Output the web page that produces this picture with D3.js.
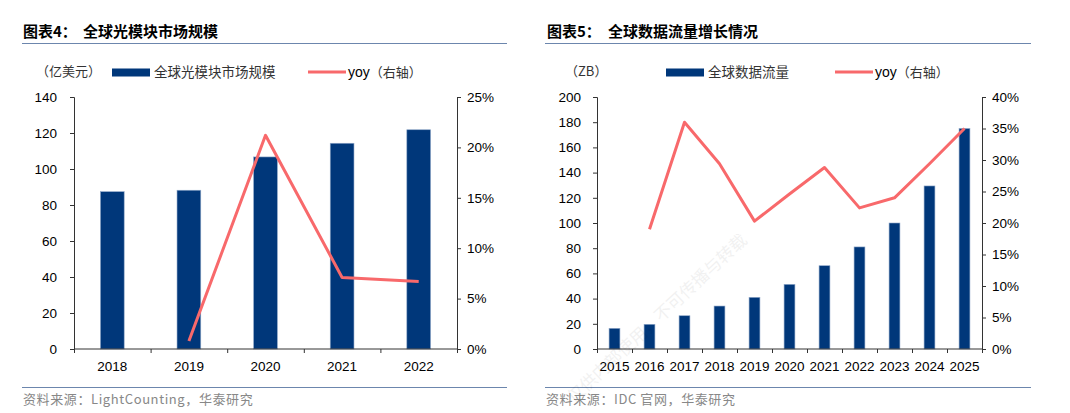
<!DOCTYPE html>
<html>
<head>
<meta charset="utf-8">
<script src="https://cdn.jsdelivr.net/npm/d3@7"></script>
<style>
  body { margin: 0; background: #fff; }
  svg { display: block; }
  text { font-family: "Liberation Sans", Arial, sans-serif; }
  .cjk { font-family: "Noto Sans CJK SC", sans-serif; }
</style>
</head>
<body>
<svg width="1070" height="413"></svg>
<script>
// 图表4 数据
const years4 = ["2018", "2019", "2020", "2021", "2022"];
const market4 = [87.4, 88.2, 106.7, 114.3, 121.8];
const yoy4 = [null, 0.8, 21.2, 7.1, 6.7];
const ticksL4 = [0, 20, 40, 60, 80, 100, 120, 140];
const ticksR4 = [0, 5, 10, 15, 20, 25];

// 图表5 数据
const years5 = ["2015", "2016", "2017", "2018", "2019", "2020", "2021", "2022", "2023", "2024", "2025"];
const traffic5 = [16.4, 19.6, 26.4, 34.1, 41.0, 51.3, 66.1, 81, 100, 129.4, 175];
const yoy5 = [null, 19.0, 36.0, 29.4, 20.3, 24.6, 28.8, 22.4, 24.0, 29.4, 35.0];
const ticksL5 = [0, 20, 40, 60, 80, 100, 120, 140, 160, 180, 200];
const ticksR5 = [0, 5, 10, 15, 20, 25, 30, 35, 40];

const BAR = "#00377A";
const LINE = "#F8696B";
const RULE = "#6C86AD";

const svg = d3.select("svg");

function drawPanel(cfg) {
    const g = svg.append("g");

    // 标题与分隔线
    const tt = g.append("text").attr("class", "cjk")
        .attr("y", 37)
        .attr("font-size", 15).attr("font-weight", "bold").attr("fill", "#000");
    tt.append("tspan").attr("x", cfg.titleX).text(cfg.title[0]);
    tt.append("tspan").attr("x", cfg.titleX2).text(cfg.title[1]);
    g.append("line")
        .attr("x1", cfg.ruleX[0]).attr("x2", cfg.ruleX[1])
        .attr("y1", 43.5).attr("y2", 43.5)
        .attr("stroke", RULE).attr("stroke-width", 1);
    g.append("line")
        .attr("x1", cfg.ruleX[0]).attr("x2", cfg.ruleX[1])
        .attr("y1", 387.5).attr("y2", 387.5)
        .attr("stroke", RULE).attr("stroke-width", 1);
    g.append("text").attr("class", "cjk")
        .attr("x", cfg.ruleX[0] + 1).attr("y", 404)
        .attr("font-size", 13).attr("letter-spacing", 0.6).attr("fill", "#888")
        .text(cfg.source);

    // 图例
    g.append("text").attr("class", "cjk")
        .attr("x", cfg.unitX).attr("y", 76)
        .attr("font-size", 13).attr("fill", "#333")
        .text(cfg.unit);
    g.append("rect")
        .attr("x", cfg.legBar).attr("y", 68.5).attr("width", 38).attr("height", 8)
        .attr("fill", BAR);
    g.append("text").attr("class", "cjk")
        .attr("x", cfg.legBar + 42).attr("y", 77)
        .attr("font-size", 13.5).attr("fill", "#333")
        .text(cfg.barName);
    g.append("line")
        .attr("x1", cfg.legLine).attr("x2", cfg.legLine + 38)
        .attr("y1", 72).attr("y2", 72)
        .attr("stroke", LINE).attr("stroke-width", 3);
    const lt = g.append("text")
        .attr("x", cfg.legLine + 40).attr("y", 77)
        .attr("font-size", 14).attr("fill", "#000");
    lt.append("tspan").text("yoy");
    lt.append("tspan").attr("class", "cjk").attr("font-size", 13).attr("fill", "#333").text("（右轴）");

    // 比例尺
    const x = d3.scaleBand().domain(cfg.cats).range([cfg.x0, cfg.x1]);
    const yL = d3.scaleLinear().domain(cfg.domL).range([349, 97]);
    const yR = d3.scaleLinear().domain(cfg.domR).range([349, 97]);

    // 柱
    const bw = x.bandwidth() * 0.31;
    g.selectAll(".bar").data(cfg.bars).enter().append("rect")
        .attr("x", (d, i) => x(cfg.cats[i]) + (x.bandwidth() - bw) / 2)
        .attr("y", d => yL(d))
        .attr("width", bw)
        .attr("height", d => yL(0) - yL(d))
        .attr("fill", BAR)
        .attr("stroke", "#8FA7C9").attr("stroke-width", 0.6);

    // 折线
    const pts = cfg.yoy.map((v, i) => [cfg.cats[i], v]).filter(d => d[1] !== null);
    g.append("path").datum(pts)
        .attr("fill", "none").attr("stroke", LINE).attr("stroke-width", 3)
        .attr("stroke-linejoin", "round")
        .attr("d", d3.line().x(d => x(d[0]) + x.bandwidth() / 2).y(d => yR(d[1])));

    // 左轴
    const axL = g.append("g").attr("transform", `translate(${cfg.x0},0)`)
        .call(d3.axisLeft(yL).tickValues(cfg.ticksL).tickSize(4).tickPadding(cfg.padL));
    // 右轴
    const axR = g.append("g").attr("transform", `translate(${cfg.x1},0)`)
        .call(d3.axisRight(yR).tickValues(cfg.ticksR).tickSize(4).tickPadding(cfg.padR)
            .tickFormat(d => d + "%"));
    [axL, axR].forEach(a => {
        a.selectAll("text").attr("font-size", 13.5).attr("fill", "#000");
        a.selectAll("path, line").attr("stroke", "#333");
    });

    // 横轴
    const axX = g.append("g").attr("transform", "translate(0,349)");
    axX.append("line").attr("x1", cfg.x0).attr("x2", cfg.x1)
        .attr("stroke", "#333");
    const bounds = cfg.cats.map(c => x(c)).concat([cfg.x1]);
    axX.selectAll(".tk").data(bounds).enter().append("line")
        .attr("x1", d => d + 0.5).attr("x2", d => d + 0.5)
        .attr("y1", 0).attr("y2", 4).attr("stroke", "#333");
    axX.selectAll(".lb").data(cfg.cats).enter().append("text")
        .attr("x", d => x(d) + x.bandwidth() / 2).attr("y", 22)
        .attr("text-anchor", "middle").attr("font-size", 13.5).attr("fill", "#000")
        .text(d => d);
}

drawPanel({
    title: ["图表4：", "全球光模块市场规模"], titleX: 23, titleX2: 83, ruleX: [22, 507],
    source: "资料来源：LightCounting，华泰研究",
    unit: "（亿美元）", unitX: 36, legBar: 112, legLine: 308,
    barName: "全球光模块市场规模",
    cats: years4, bars: market4, yoy: yoy4,
    x0: 74, x1: 457, domL: [0, 140], domR: [0, 25],
    ticksL: ticksL4, ticksR: ticksR4, padL: 13, padR: 6
});

drawPanel({
    title: ["图表5：", "全球数据流量增长情况"], titleX: 547, titleX2: 608, ruleX: [545, 1031],
    source: "资料来源：IDC 官网，华泰研究",
    unit: "（ZB）", unitX: 565, legBar: 666, legLine: 835,
    barName: "全球数据流量",
    cats: years5, bars: traffic5, yoy: yoy5,
    x0: 597, x1: 982, domL: [0, 200], domR: [0, 40],
    ticksL: ticksL5, ticksR: ticksR5, padL: 12, padR: 6
});

// 水印
svg.append("text").attr("class", "cjk")
    .attr("transform", "translate(574,404) rotate(-43)")
    .attr("font-size", 17).attr("fill", "#000").attr("opacity", 0.05)
    .text("仅供内部使用，不可传播与转载");
</script>
</body>
</html>
